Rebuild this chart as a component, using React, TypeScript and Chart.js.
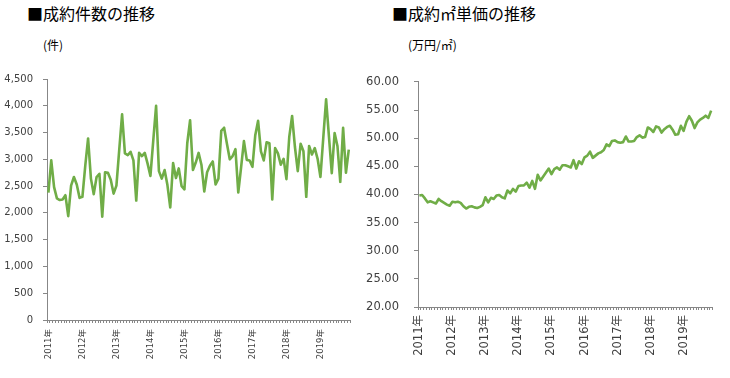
import React, { useEffect, useRef } from 'react';
import { Chart, registerables } from 'chart.js';

Chart.register(...registerables);

// ---- data ----
const yearLabels = ['2011年', '2012年', '2013年', '2014年', '2015年', '2016年', '2017年', '2018年', '2019年'];
const startYear = 2011;

// 成約件数 (monthly, 2011/1 - 2019/11)
const counts = [
  2380, 2980, 2480, 2270, 2240, 2250, 2330, 1940, 2510, 2670, 2530, 2280,
  2300, 2880, 3390, 2640, 2350, 2670, 2730, 1930, 2760, 2750, 2620, 2360,
  2510, 3180, 3840, 3110, 3080, 3140, 2980, 2230, 3120, 3060, 3120, 2920,
  2690, 3350, 4000, 2780, 2640, 2800, 2520, 2100, 2930, 2650, 2830, 2500,
  2440, 3300, 3730, 2800, 2940, 3120, 2900, 2400, 2760, 2880, 2960, 2530,
  2640, 3530, 3590, 3290, 3000, 3060, 3190, 2380, 2850, 3340, 2990, 2980,
  2860, 3450, 3720, 3150, 2980, 3320, 3300, 2250, 3210, 3110, 2900, 3010,
  2630, 3420, 3810, 3230, 2780, 3290, 3150, 2300, 3250, 3090, 3210, 3010,
  2670, 3400, 4120, 3430, 2740, 3490, 3250, 2580, 3590, 2750, 3180,
];

// 成約㎡単価 (万円/㎡)
const prices = [
  39.8, 39.9, 39.3, 38.6, 38.8, 38.6, 38.4, 39.2, 38.8, 38.5, 38.2, 38.0,
  38.7, 38.6, 38.7, 38.5, 37.9, 37.5, 37.8, 37.9, 37.7, 37.6, 37.8, 38.1,
  39.5, 38.6, 39.4, 39.2, 39.8, 39.9, 39.5, 39.3, 40.7, 40.2, 41.0, 40.5,
  41.5, 41.6, 41.6, 42.1, 41.2, 42.4, 41.0, 43.5, 42.5, 43.2, 43.9, 44.6,
  43.6, 44.5, 44.8, 44.4, 45.2, 45.2, 45.0, 44.8, 46.1, 44.6, 45.9, 45.4,
  46.6, 46.9, 47.6, 46.5, 46.9, 47.3, 47.5, 47.9, 48.9, 48.6, 49.5, 49.6,
  49.3, 49.2, 49.3, 50.3, 49.4, 49.4, 49.5, 50.2, 50.5, 50.1, 50.2, 51.9,
  51.6, 51.1, 52.1, 51.9, 51.0, 51.6, 52.0, 52.2, 51.5, 50.6, 50.7, 52.2,
  51.3, 52.9, 53.9, 53.1, 51.8, 52.8, 53.3, 53.6, 54.0, 53.6, 54.9,
];

const categories: string[] = counts.map((_, i) => `${startYear + Math.floor(i / 12)}/${(i % 12) + 1}`);

const GREEN = '#70AD47';
const AXIS = '#878787';
const TEXT = '#404040';

type PanelCfg = {
  width: number;
  height: number;
  values: number[];
  yMin: number;
  yMax: number;
  yStep: number;
  yFormat: (v: number) => string;
  yWidth: number;
  yPad: number;
  yFont: number;
  xHeight: number;
  xPad: number;
  xFont: number;
  top: number;
  right: number;
};

function Panel({ cfg }: { cfg: PanelCfg }) {
  const ref = useRef<HTMLCanvasElement | null>(null);
  useEffect(() => {
    if (!ref.current) return;
    const chart = new Chart(ref.current, {
      type: 'line',
      data: {
        labels: categories,
        datasets: [
          {
            data: cfg.values,
            borderColor: GREEN,
            backgroundColor: GREEN,
            borderWidth: 2.6,
            pointRadius: 0,
            tension: 0,
            borderJoinStyle: 'round',
            fill: false,
          },
        ],
      },
      options: {
        animation: false,
        responsive: false,
        maintainAspectRatio: false,
        layout: { padding: { top: cfg.top, right: cfg.right, left: 0, bottom: 0 } },
        plugins: {
          legend: { display: false },
          tooltip: { enabled: false },
          title: { display: false },
        },
        scales: {
          x: {
            type: 'category',
            offset: true,
            grid: {
              display: true,
              drawOnChartArea: false,
              drawTicks: true,
              tickLength: 3,
              offset: true,
              color: AXIS,
              lineWidth: 1,
            },
            border: { display: true, color: AXIS, width: 1 },
            ticks: {
              autoSkip: false,
              maxRotation: 90,
              minRotation: 90,
              padding: cfg.xPad,
              color: TEXT,
              font: { family: '"DejaVu Sans", "Noto Sans CJK JP", sans-serif', size: cfg.xFont },
              callback: (_v: any, i: number) => (i % 12 === 0 ? yearLabels[i / 12] : ''),
            },
            afterFit: (s: any) => {
              s.height = cfg.xHeight;
            },
          },
          y: {
            min: cfg.yMin,
            max: cfg.yMax,
            grid: {
              display: true,
              drawOnChartArea: false,
              drawTicks: true,
              tickLength: 4,
              color: AXIS,
            },
            border: { display: true, color: AXIS, width: 1 },
            ticks: {
              stepSize: cfg.yStep,
              padding: cfg.yPad,
              color: TEXT,
              font: { family: '"DejaVu Sans", sans-serif', size: cfg.yFont },
              callback: (v: any) => cfg.yFormat(Number(v)),
            },
            afterFit: (s: any) => {
              s.width = cfg.yWidth;
            },
          },
        },
      },
    } as any);
    return () => chart.destroy();
  }, [cfg]);
  return (
    <canvas
      ref={ref}
      width={cfg.width}
      height={cfg.height}
      style={{ width: cfg.width, height: cfg.height, display: 'block' }}
    />
  );
}

const leftCfg: PanelCfg = {
  width: 365,
  height: 318,
  values: counts,
  yMin: 0,
  yMax: 4500,
  yStep: 500,
  yFormat: (v) => v.toLocaleString('en-US'),
  yWidth: 47,
  yPad: 10,
  yFont: 10,
  xHeight: 58,
  xPad: 6,
  xFont: 8.5,
  top: 19,
  right: 5,
};

const rightCfg: PanelCfg = {
  width: 365,
  height: 318,
  values: prices,
  yMin: 20,
  yMax: 60,
  yStep: 5,
  yFormat: (v) => v.toFixed(2),
  yWidth: 53,
  yPad: 15,
  yFont: 11.5,
  xHeight: 71,
  xPad: 5,
  xFont: 11.5,
  top: 20,
  right: 13,
};

const titleStyle: React.CSSProperties = {
  position: 'absolute',
  fontFamily: '"Noto Sans CJK JP", sans-serif',
  fontSize: 16,
  lineHeight: '16px',
  color: '#000',
  whiteSpace: 'nowrap',
};
const unitStyle: React.CSSProperties = {
  position: 'absolute',
  fontFamily: '"Noto Sans CJK JP", sans-serif',
  fontSize: 12,
  lineHeight: '12px',
  color: '#000',
  whiteSpace: 'nowrap',
};

export default function App() {
  return (
    <div style={{ position: 'fixed', left: 0, top: 0, width: 730, height: 378, background: '#fff', overflow: 'hidden' }}>
      <div style={{ ...titleStyle, left: 27, top: 5 }}>■成約件数の推移</div>
      <div style={{ ...titleStyle, left: 392, top: 5 }}>■成約㎡単価の推移</div>
      <div style={{ ...unitStyle, left: 43, top: 39 }}>(件)</div>
      <div style={{ ...unitStyle, left: 408, top: 39 }}>(万円/㎡)</div>
      <div style={{ position: 'absolute', left: 0, top: 60 }}>
        <Panel cfg={leftCfg} />
      </div>
      <div style={{ position: 'absolute', left: 365, top: 60 }}>
        <Panel cfg={rightCfg} />
      </div>
    </div>
  );
}
